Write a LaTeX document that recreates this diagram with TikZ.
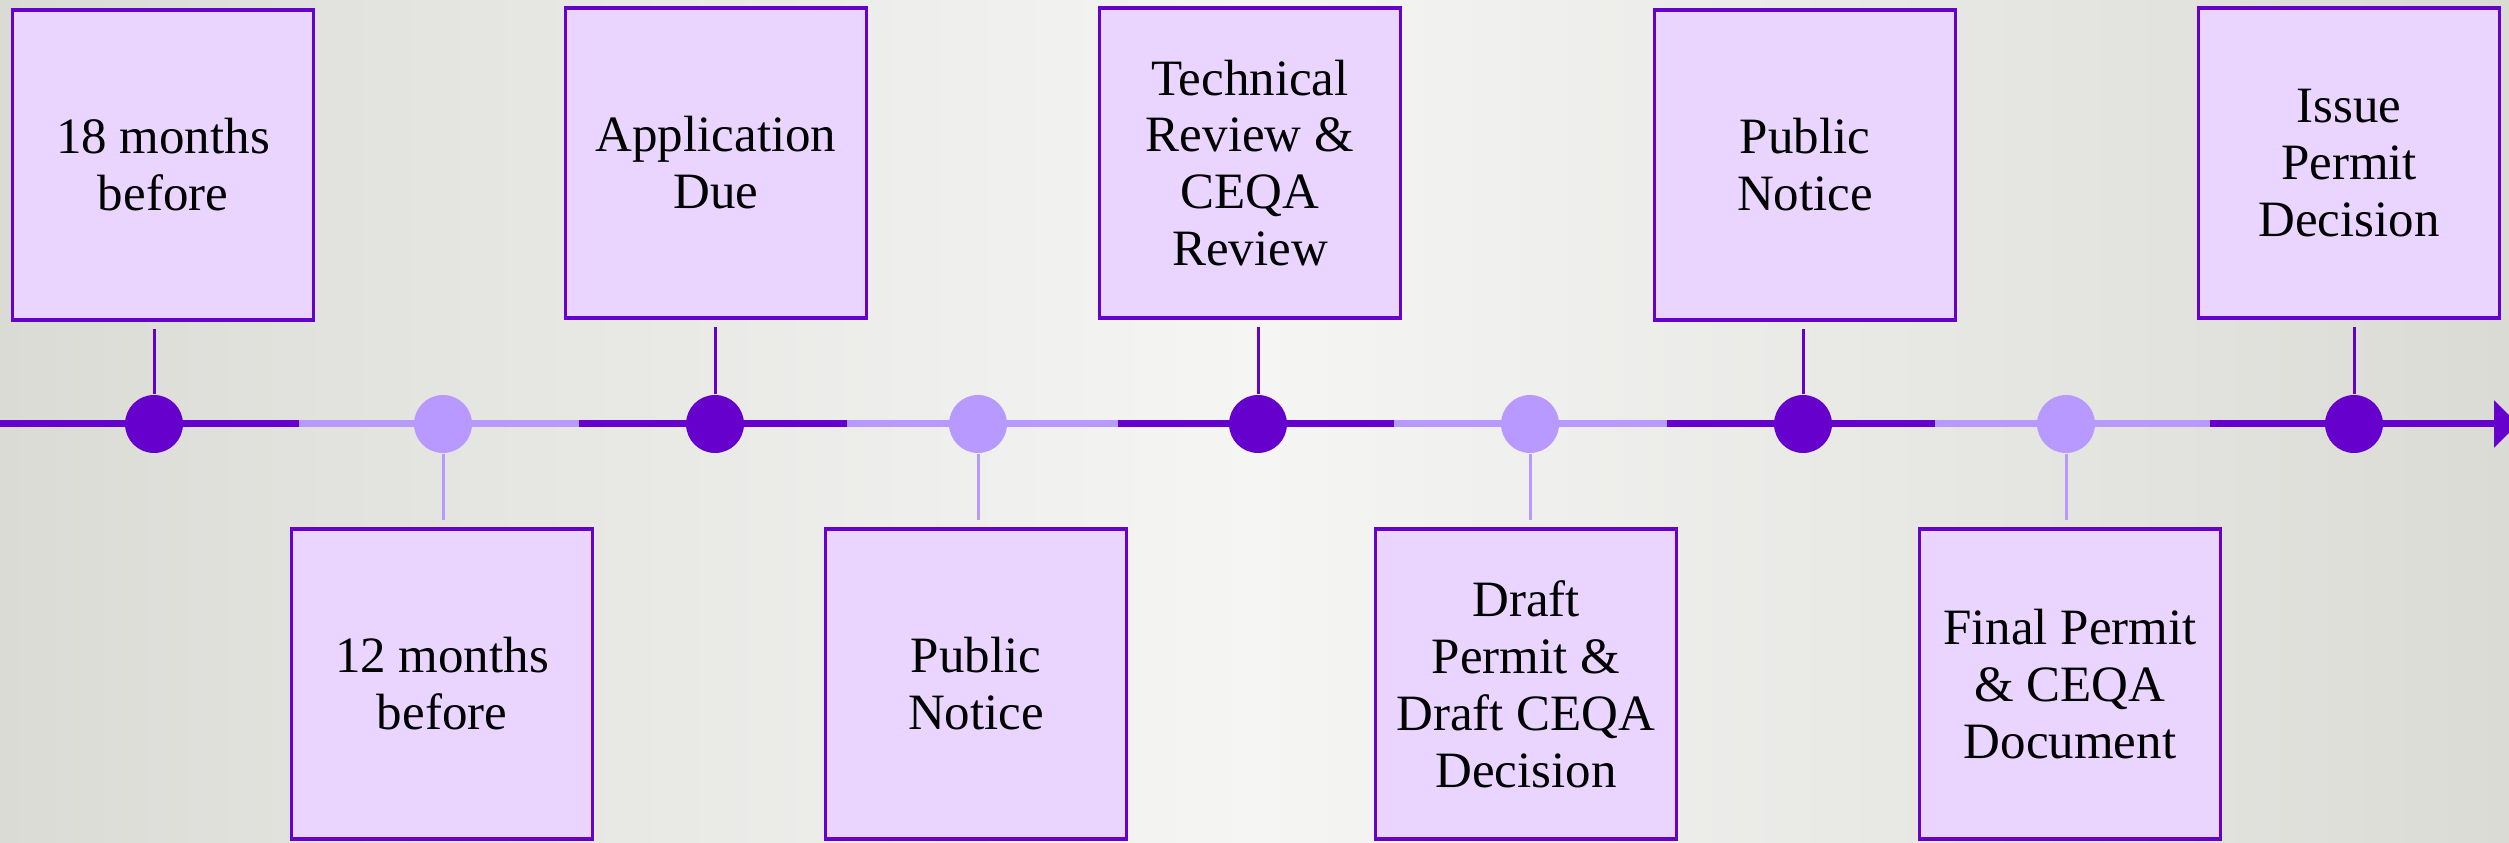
\documentclass[tikz,border=0pt]{standalone}
\usepackage{fontspec}
\setmainfont{Liberation Serif}
\usetikzlibrary{arrows.meta}

\definecolor{darkpurple}{RGB}{102,0,204}
\definecolor{lightpurple}{RGB}{184,153,255}
\definecolor{boxfill}{RGB}{233,213,255}
\definecolor{bgedge}{RGB}{219,219,214}
\definecolor{bgmid}{RGB}{245,245,244}

\begin{document}
\begin{tikzpicture}[
		x=0.1mm, y=-0.1mm,
		eventbox/.style={draw=darkpurple, fill=boxfill, line width=0.35mm, minimum width=30.1mm, minimum height=31mm, inner sep=0pt, align=center, font=\fontsize{14.5}{16.2}\selectfont},
		bigdot/.style={circle, fill=darkpurple, minimum size=5.8mm, inner sep=0pt},
		lightdot/.style={circle, fill=lightpurple, minimum size=5.8mm, inner sep=0pt},
		timeline/.style={line width=0.7mm},
		stem/.style={line width=0.3mm, shorten >=2}
	]

	\def \ly {424}

	\useasboundingbox (0, 0) rectangle (2509, 843);
	\shade[left color=bgedge, right color=bgedge, middle color=bgmid] (0, 0) rectangle (2509, 843);

	% colour change points on the line
	\foreach \x [count=\i] in {0, 299, 579, 847, 1118, 1394, 1667, 1935, 2210, 2518} {
			\coordinate (s-\i) at (\x, \ly);
		}

	\draw[timeline, darkpurple, -{Triangle[length=2.4mm, width=4.6mm]}] (s-1) -- (s-10);
	\foreach \i/\j in {2/3, 4/5, 6/7, 8/9} {
			\draw[timeline, lightpurple] (s-\i) -- (s-\j);
		}

	% boxes above the line
	\node[eventbox] (top-1) at (163, 165) {18 months\\before};
	\node[eventbox] (top-2) at (716, 163) {Application\\Due};
	\node[eventbox] (top-3) at (1250, 163) {Technical\\Review \&\\CEQA\\Review};
	\node[eventbox] (top-4) at (1805, 165) {Public\\Notice};
	\node[eventbox] (top-5) at (2349, 163) {Issue\\Permit\\Decision};

	% boxes below the line
	\node[eventbox] (bot-1) at (442, 684) {12 months\\before};
	\node[eventbox] (bot-2) at (976, 684) {Public\\Notice};
	\node[eventbox] (bot-3) at (1526, 684) {Draft\\Permit \&\\Draft CEQA\\Decision};
	\node[eventbox] (bot-4) at (2070, 684) {Final Permit\\\& CEQA\\Document};

	\foreach \x [count=\i] in {154, 715, 1258, 1803, 2354} {
			\node[bigdot] (up-\i) at (\x, \ly) {};
		}

	\foreach \x [count=\i] in {443, 978, 1530, 2066} {
			\node[lightdot] (down-\i) at (\x, \ly) {};
		}

	\foreach \i in {1, ..., 5} {
			\draw[stem, darkpurple] (up-\i) -- (up-\i |- top-\i.south);
		}

	\foreach \i in {1, ..., 4} {
			\draw[stem, lightpurple] (down-\i) -- (down-\i |- bot-\i.north);
		}

\end{tikzpicture}
\end{document}
